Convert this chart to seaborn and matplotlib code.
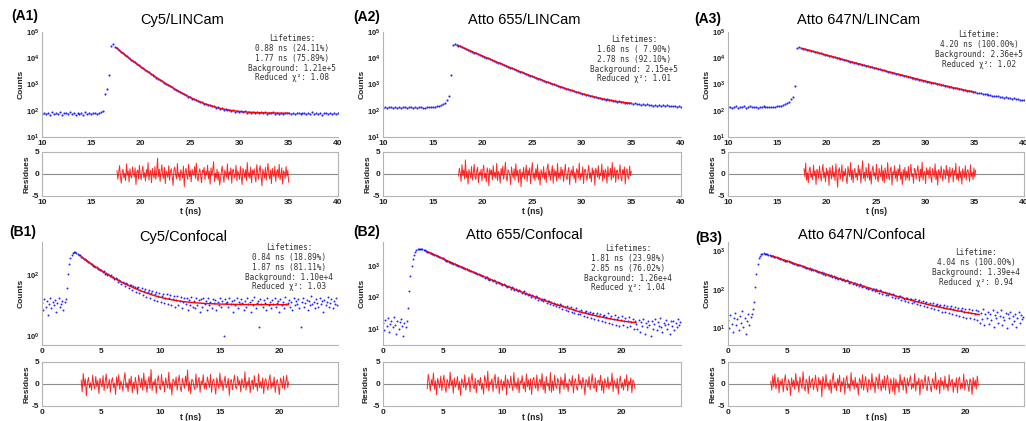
import numpy as np
import pandas as pd
import matplotlib
matplotlib.use("Agg")
import matplotlib.pyplot as plt
import seaborn as sns

# ---------------- time windows (ns) ----------------
A_SPAN = (10.0, 40.0)          # LINCam histogram window
B_SPAN = (0.0, 24.9)           # confocal histogram window
A_FIT_SPAN = (17.5, 35.0)
B1_FIT_SPAN = (3.3, 20.8)
B23_FIT_SPAN = (3.7, 21.2)
A1_RES_SPAN = (17.6, 35.0)
A2_RES_SPAN = (17.6, 35.0)
A3_RES_SPAN = (17.7, 35.1)
B1_RES_SPAN = (3.3, 20.8)
B2_RES_SPAN = (3.7, 21.1)
B3_RES_SPAN = (3.6, 21.1)

# ---------------- photon counts ----------------
a1_counts = [78, 85, 72, 80, 69, 88, 76, 81, 74, 90, 70, 83, 79, 75, 86, 73, 80, 68, 84, 77,
             82, 71, 87, 76, 79, 74, 85, 80, 72, 83, 86, 95,
             420, 700, 2300, 30500, 33800,
             27800, 23900, 20600, 17800, 15460, 13440, 11710, 10230, 8950, 7850,
             6900, 6080, 5360, 4735, 4190, 3710, 3290, 2925, 2600, 2320,
             2064, 1842, 1647, 1473, 1319, 1183, 1061, 954, 859, 774,
             699, 631, 572, 518, 475, 420, 398, 349, 333, 292,
             283, 248, 244, 214, 211, 185, 187, 162, 166, 146,
             149, 131, 136, 119, 126, 110, 117, 103, 111, 98,
             104, 92, 101, 89, 97, 86, 94, 84, 92, 82,
             90, 81, 88, 79, 87, 80, 86, 77, 85, 79,
             86, 76, 84, 78, 85, 75, 83, 79, 84,
             76, 82, 74, 80, 85, 72, 79, 83, 75, 81, 77, 86, 73, 80, 78, 84, 71, 79, 82, 76,
             80, 74, 85, 78, 81]

a2_counts = [132, 140, 128, 137, 145, 126, 138, 131, 142, 129, 136, 144, 127, 133, 139, 130, 141, 125, 136, 143,
             131, 128, 138, 134, 140,
             142, 139, 150, 153, 166, 178, 204, 248, 370, 2400, 32000, 35400,
             32800, 30380, 28130, 26060, 24150, 22380, 20750, 19240, 17840, 16550,
             15360, 14250, 13230, 12280, 11400, 10590, 9840, 9140, 8490, 7900,
             7340, 6825, 6350, 5900, 5490, 5110, 4760, 4430, 4130, 3845,
             3580, 3340, 3110, 2900, 2710, 2530, 2360, 2200, 2060, 1920,
             1800, 1680, 1573, 1472, 1378, 1292, 1211, 1136, 1067, 1001,
             941, 885, 833, 785, 739, 698, 659, 622, 595, 550,
             534, 496, 482, 447, 437, 405, 397, 368, 364, 337,
             334, 309, 310, 285, 288, 265, 269, 247, 251, 232,
             237, 219, 226, 208, 215, 198, 205, 189, 197, 182,
             190, 176, 184, 170, 179, 165, 174, 162, 170, 158,
             167, 155, 164, 152, 161, 150, 159, 148, 157, 146,
             155, 145, 153, 144]

a3_counts = [138, 145, 132, 141, 150, 129, 143, 136, 147, 131, 140, 148, 133, 137, 144, 128, 142, 135, 146, 139,
             133, 141, 137, 145, 140,
             146, 150, 157, 165, 178, 195, 225, 270, 340, 900, 24000, 25800,
             24350, 23230, 22150, 21130, 20160, 19230, 18340, 17490, 16690, 15920,
             15180, 14480, 13820, 13180, 12580, 12000, 11450, 10920, 10420, 9940,
             9490, 9050, 8640, 8240, 7870, 7510, 7165, 6840, 6527, 6230,
             5947, 5678, 5420, 5175, 4941, 4718, 4506, 4303, 4110, 3925,
             3750, 3582, 3422, 3270, 3125, 2986, 2854, 2728, 2608, 2493,
             2384, 2280, 2181, 2086, 1996, 1910, 1828, 1750, 1675, 1604,
             1536, 1471, 1410, 1351, 1295, 1241, 1190, 1142, 1095, 1051,
             1009, 969, 931, 894, 859, 826, 795, 764, 736, 708,
             682, 657, 633, 611, 589, 568, 549, 530, 512, 495,
             485, 457, 454, 428, 427, 401, 403, 377, 380, 355,
             359, 336, 340, 318, 323, 301, 307, 288, 293, 274,
             280, 262, 268, 251]

b1_counts = [12, 7, 16, 9, 14, 5, 11, 18, 8, 13, 10, 15, 6, 12, 17, 9, 11, 14, 7, 13,
             16, 38, 110, 230, 350, 440, 505, 545, 560,
             521, 502, 450, 436, 390, 379, 340, 332, 297, 291,
             261, 256, 229, 226, 202, 201, 179, 180, 158, 160,
             140, 144, 125, 130, 111, 117, 98, 106, 89, 96,
             83,
             84, 71, 78, 74, 60, 69, 63, 51, 60, 56,
             44, 53, 49, 38, 47, 45, 33, 42, 40, 28,
             37, 41, 25, 33, 36, 22, 30, 34, 19, 27,
             31, 17, 25, 29, 15, 23, 27, 14, 21, 26,
             13, 20, 24, 12, 18, 23, 11, 17, 22, 10,
             16, 21, 9, 15, 20, 10, 14, 19, 8, 13,
             18,
             11, 18, 7, 15, 10, 19, 9, 14,
             8, 17, 10, 15, 6, 16, 9, 18, 11, 14,
             7, 17, 10, 13, 8, 16, 12, 15, 7, 13,
             10, 18, 9, 14, 1, 16, 12, 13, 9, 17,
             11, 14, 6, 15, 10, 18, 8, 13, 11, 16,
             12, 7, 14, 9, 17, 11, 13, 6, 15, 10,
             19, 8, 12, 14, 2, 16, 11, 9, 15, 12,
             7, 17, 10, 13, 8, 15, 11, 18, 9, 12,
             14, 6, 16, 10, 13, 8, 19, 11, 12, 15,
             9, 13, 7, 17, 10, 14, 11, 16, 8, 2,
             13, 18, 9, 12, 15, 7, 14, 10, 20, 11,
             13, 8, 16, 12, 9, 17, 11, 14, 6, 15,
             10, 13, 19, 9, 12, 16, 8, 14, 11, 17,
             10]

b2_counts = [15, 9, 19, 12, 22, 8, 14, 17, 11, 24, 13, 7, 18, 10, 16, 21, 12, 6, 15, 11,
             18, 45, 160, 480, 1000, 1650, 2300, 2850, 3250, 3450, 3530, 3560, 3540,
             3490, 3400, 3205, 3130, 2950, 2880, 2715, 2660, 2500, 2450,
             2300, 2260, 2120, 2090, 1955, 1930, 1800, 1780, 1665, 1645,
             1530, 1520, 1415, 1405, 1305, 1300, 1205, 1205, 1115, 1115,
             1030, 1035, 950, 960, 880, 890, 810, 825, 750, 768,
             693, 712, 640, 662, 593, 615, 549, 572, 508, 532,
             480, 489, 431, 447, 437, 396, 372, 399, 370, 338,
             352, 341, 298, 309, 281, 301, 266, 249, 262, 259,
             227, 216, 233, 210, 187, 211, 195, 172, 190, 168,
             158, 176, 161, 138, 149, 157, 128, 136, 119, 134,
             124, 103, 117, 111, 94, 108, 104, 86, 97, 83,
             92, 76, 88, 81, 68, 79, 75, 61, 72, 58,
             69, 64, 52, 63, 49, 60, 56, 44, 55, 51,
             41, 53, 38, 47, 50, 35, 43, 33, 41, 45,
             30, 38, 29, 40, 35, 26, 34, 38, 24, 31,
             35, 22, 29, 33, 21, 27, 32, 19, 26, 30,
             17, 25, 28, 16, 24, 31, 15, 22, 26, 14,
             21, 27, 13, 20, 24, 12, 19, 25, 13, 18,
             22, 11, 17, 23, 12, 16, 21, 10, 18, 14,
             10, 19, 8, 16, 12, 21, 7, 15, 11, 18, 13, 6, 17, 10, 14, 20, 9, 16, 12, 22,
             11, 8, 15, 13, 19, 10, 14, 7, 17, 12, 18, 9, 15, 11, 20, 13, 16]

b3_counts = [16, 10, 22, 13, 8, 19, 25, 12, 17, 9, 21, 14, 28, 11, 18, 7, 15, 23, 12, 20,
             24, 32, 48, 120, 260, 450, 640, 760, 825, 850, 858,
             855, 848, 830, 795, 790, 757, 752, 721, 716, 686,
             683, 653, 650, 622, 620, 592, 591, 564, 563, 537,
             537, 511, 513, 486, 489, 463, 467, 441, 445, 420,
             425, 400, 405, 380, 387, 362, 369, 345, 352, 328,
             337, 312, 321, 297, 307, 283, 293, 270, 280, 257,
             268, 245, 256, 233, 245, 222, 233, 211, 224,
             204, 211, 198, 189, 199, 190, 175, 185, 178, 163,
             172, 168, 151, 159, 161, 141, 150, 147, 131, 142,
             127, 136, 131, 117, 125, 124, 109, 120, 106, 113,
             110, 97, 106, 103, 90, 101, 92, 84, 95, 91,
             79, 87, 89, 74, 82, 71, 80, 78, 66, 75,
             73, 62, 70, 59, 68, 69, 55, 64, 57, 51,
             62, 60, 48, 58, 56, 45, 54, 47, 56, 42,
             50, 53, 39, 47, 51, 37, 45, 48, 35, 43,
             46, 33, 41, 44, 31, 40, 42, 29, 38, 41,
             27, 36, 40, 26, 34, 38, 25, 33, 37, 24,
             31, 35, 22, 30, 34, 21, 29, 33, 20, 27,
             32, 19, 26, 31, 18, 25, 30, 17, 24, 29,
             16,
             28, 14, 25, 17, 31, 12, 23, 19, 27, 13, 24, 16, 29, 11, 22, 18, 26, 14, 21, 30,
             12, 20, 16, 25, 10, 23, 18, 27, 13, 21, 15, 24, 11, 19, 26, 14, 22, 17, 20]

# ---------------- fitted decay curves ----------------
a1_fit = [25780, 17830, 12540, 8950, 6475, 4735, 3495, 2600, 1950, 1473, 1120, 859, 665, 518,
          406, 326, 265, 220, 185, 160, 140, 125, 114, 106, 99, 94.5, 91, 88, 86, 84.6,
          83.5, 82.6, 82, 81.5, 81, 81]
a2_fit = [31570, 26063, 21550, 17842, 14790, 12279, 10205, 8494, 7075, 5904, 4930, 4127, 3455,
          2903, 2440, 2057, 1738, 1472, 1250, 1067, 913, 785, 678, 589, 515, 453, 401, 358,
          321, 291, 266, 245, 228, 214, 201, 191]
a3_fit = [23784, 21130, 18774, 16684, 14827, 13179, 11718, 10418, 9266, 8241, 7334, 6525, 5810,
          5173, 4609, 4107, 3663, 3268, 2917, 2607, 2332, 2085, 1869, 1674, 1502, 1351, 1216,
          1094, 987, 894, 811, 735, 668, 610, 558, 512]
b1_fit = [398, 285, 208, 155, 117, 90, 70, 55.5, 44.6, 36.4, 30.2, 25.5, 21.9, 19.2, 17.1, 15.6,
          14.4, 13.5, 12.8, 12.25, 11.85, 11.5, 11.3, 11.1, 10.96, 10.85, 10.77, 10.7, 10.66,
          10.62, 10.6, 10.58, 10.56, 10.55, 10.54, 10.53]
b2_fit = [2973, 2424, 1980, 1621, 1330, 1094, 901, 744, 616, 510, 424, 353, 294, 246, 206, 173,
          146, 123, 105, 89, 76, 65, 56, 49, 43, 37, 33, 29.4, 26.5, 24, 21.8, 20.1, 18.6,
          17.3, 16.3, 15.5]
b3_fit = [746, 660, 585, 518, 459, 408, 362, 321, 285, 253, 225, 201, 179, 160, 143, 127, 114,
          102, 92, 83, 75, 67.5, 61, 55.5, 50.6, 46, 42.3, 38.9, 35.9, 33.2, 30.9, 28.8, 27,
          25.3, 23.9, 22.6]

# ---------------- weighted residuals ----------------
a1_res = [0.8, -1.2, 0.3, 1.9, -0.6, -2.1, 0.4, 1.1, -0.9, 0.2, -1.5, 2.3, -0.3, 0.7, -1.8, 1.2,
          -0.4, -0.9, 1.6, 0.1, -0.7, 1.4, -2.4, 0.5, 0.9, -1.1, 2.0, -0.2, -1.3, 0.6, 1.8, -0.8,
          0.3, -1.6, 1.0, -0.5, 2.6, -1.4, 0.2, 0.8, -2.0, 1.3, -0.1, -0.9, 1.7, -1.2, 0.4, 3.6,
          -0.6, 1.1, -1.7, 0.5, 2.1, -0.3, -1.0, 1.5, -2.2, 0.7, 0.0, -0.8, 1.9, -1.4, 0.6, 1.2,
          -0.5, -2.6, 0.9, 1.6, -0.2, -1.1, 2.4, -0.7, 0.3, -1.5, 1.0, 0.2, -0.9, 1.8, -2.9, 0.5,
          1.3, -0.4, -1.2, 2.2, -0.6, 0.8, -1.8, 1.1, 0.1, -0.3, 1.7, -1.0, 2.5, -0.8, -1.6, 0.4,
          1.2, -0.5, -2.0, 0.9, 0.3, 1.5, -1.3, 0.6, -0.2, 2.0, -1.1, 0.7, -2.3, 1.4, -0.4, 0.9,
          2.8, -1.7, 0.2, -0.9, 1.1, -1.4, 0.5, -2.5,
          -1.1, 0.6, 1.8, -0.4, -1.9, 0.9, 0.2, -0.7, 2.3, -1.3, 0.5, -0.2, 1.4, -2.1, 0.8, 1.1,
          -0.9, -0.3, 2.0, -1.6, 0.7, 0.1, -1.2, 1.7, -0.5, -2.4, 1.3, 0.4, -0.8, 1.0, -1.5, 2.6,
          -0.6, 0.3, -1.0, 1.6, -2.0, 0.9, -0.1, 1.2, -0.7, -1.8, 2.1, 0.5, -1.2, 0.8, 1.9, -0.4,
          -2.7, 1.1, 0.2, -0.9, 1.5, -1.4, 0.6, 2.4, -0.3, -1.1, 0.9, -2.2, 1.3, 0.0, -0.6, 1.8,
          -1.7, 0.4, 1.0, -0.8, 2.2, -1.3, -0.2, 1.4, -2.3, 0.7, 0.3, -1.0, 1.7, -0.5, 0.8, -1.9]
a2_res = [-0.5, 1.3, 0.2, -1.7, 2.1, -0.4, 0.9, -1.1, 3.2, -0.8, 0.6, -2.3, 1.0, 0.3, -0.9, 1.7,
          -1.4, 0.1, 2.2, -0.6, -1.2, 0.8, 1.5, -2.0, 0.4, -0.3, 1.1, -1.6, 0.7, 2.0, -0.9, 0.2,
          -1.8, 1.4, 0.5, -2.7, 1.2, -0.1, 0.9, -1.3, 1.9, -0.7, 0.4, -1.0, 2.4, -1.5, 0.6, 0.0,
          -2.1, 1.3, -0.4, 1.8, -1.2, 0.3, 2.7, -0.8, -1.6, 1.0, 0.5, -0.2, -2.4, 1.6, 0.1, -0.9,
          1.2, -1.4, 2.3, -0.5, 0.8, -1.9, 0.7, 1.1, -2.9, 0.4, -0.6, 1.5, -1.1, 0.2, 2.0, -1.7,
          0.9, -0.3, 1.4, -2.2, 0.6, 2.6, -1.0, 0.3, -1.5, 1.2, -0.7, 2.1, -1.3, 0.5, -2.5, 1.0,
          0.2, -0.8, 1.7, -1.2, 0.4, -1.9, 1.3, 2.3, -0.6, 0.8, -1.4, 0.1, 1.9, -2.1, 1.1, -0.5,
          0.7, -1.6, 2.4, -0.9, 0.3, -1.2, 1.6, -0.4,
          1.0, -1.7, 0.3, 2.2, -0.8, -1.3, 0.6, 1.5, -2.4, 0.2, 0.9, -0.5, 1.8, -1.1, 0.4, -2.0,
          1.2, 0.7, -0.9, 2.5, -1.4, 0.1, -0.6, 1.6, -2.2, 0.8, 1.1, -0.3, -1.5, 0.5, 2.0, -1.0,
          0.3, -1.8, 1.4, -0.2, 0.9, -2.6, 1.3, 0.6, -0.7, 1.9, -1.2, 0.2, -0.4, 2.3, -1.6, 0.8,
          -1.0, 1.1, 0.4, -2.1, 1.7, -0.6, 0.0, 1.3, -1.4, 2.6, -0.9, -0.3, 1.5, -1.9, 0.7, 0.9,
          -1.2, 0.2, 2.1, -0.8, -1.6, 1.0, -0.1, 1.6, -2.3, 0.5, 1.2, -0.7, -1.1, 1.8, -0.4, 0.6]
a3_res = [1.2, -0.6, 2.5, -1.4, 0.3, -2.0, 0.9, 1.6, -0.8, 0.1, -1.3, 2.0, -0.4, 0.7, -2.4, 1.1,
          0.5, -1.0, 1.8, -0.2, -1.6, 0.6, 2.2, -0.9, 0.4, -1.8, 1.3, -0.3, 0.8, -2.6, 1.5, 0.2,
          -1.1, 1.9, -0.7, 0.4, -1.5, 2.3, -0.5, -3.0, 0.8, 1.4, -1.2, 0.1, 2.1, -1.7, 0.6, -0.4,
          1.2, -0.9, -2.2, 1.7, 0.3, -0.6, 2.6, -1.3, 0.9, -1.9, 0.5, 1.3, -0.8, 0.2, -1.4, 2.0,
          -0.3, 1.1, -2.1, 0.7, 3.0, -1.0, 0.4, -1.6, 1.5, -0.2, -0.9, 2.4, -1.4, 0.6, -2.3, 1.0,
          1.8, -0.5, 0.3, -1.2, 2.2, -0.7, -1.8, 1.3, 0.1, -0.6, 2.0, -1.5, 0.8, -2.0, 1.4, 0.2,
          -1.1, 2.6, -0.4, -1.3, 0.9, 1.6, -2.5, 0.5, -0.2, 1.9, -1.0, 0.7, -1.7, 1.2, -0.3, 2.1,
          -1.2, 0.4, -2.4, 1.0, -0.6, 1.5, -1.4, 0.6,
          -0.9, 1.7, -1.5, 0.4, 2.2, -0.6, 0.1, -2.1, 1.3, 0.8, -1.2, 0.5, 1.9, -0.3, -1.7, 1.1,
          -0.8, 2.7, -1.4, 0.2, 0.6, -2.2, 1.4, -0.1, 0.9, -1.0, 1.6, -0.5, -1.9, 1.2, 0.3, -0.7,
          2.3, -1.3, 0.7, -2.5, 1.0, 0.4, -0.9, 1.8, -0.2, -1.6, 1.1, 0.5, -1.1, 2.0, -0.4, 0.9,
          -2.0, 1.5, -0.6, 0.2, 1.3, -1.8, 0.8, -0.3, 2.4, -1.2, 0.1, -1.5, 1.7, -0.9, 0.6, -2.3,
          1.2, 0.3, -0.8, 1.9, -1.4, 0.5, 1.0, -0.2, -1.7, 2.1, -0.6, 0.4, -1.3, 1.4, -0.7, 0.9]
b1_res = [0.9, -1.8, 2.4, -0.5, 1.2, -2.7, 0.4, 1.5, -0.9, 0.3, -1.4, 2.0, -0.2, -1.1, 1.7, -0.6,
          0.8, -2.2, 1.3, 0.1, -0.7, 1.9, -1.5, 0.5, 2.3, -1.0, -0.3, 1.1, -1.9, 0.6, 1.4, -0.8,
          0.2, -2.4, 1.6, -0.4, 2.1, -1.2, 0.7, -0.1, -1.6, 1.0, 2.6, -0.9, 0.3, -1.7, 1.2, -0.5,
          1.8, -2.0, 0.4, -1.1, 1.5, -0.2, -2.3, 2.0, 0.6, -0.8, 1.3, -1.4, 2.5, -0.6, 0.9, -1.9,
          0.2, 1.7, -1.0, 3.3, -1.5, 0.5, -0.3, 1.2, -2.1, 0.8, 1.9, -0.7, -1.3, 2.2, -0.4, 0.6,
          -1.8, 1.4, 0.1, -0.9, 2.7, -1.2, 0.3, -2.5, 1.1, 0.7, -0.5, 1.6, -1.4, 0.4, 2.0, -0.8,
          -1.7, 1.3, 0.2, -1.0, 1.8, -0.3, 3.2, -1.6, 0.5, -2.2, 1.0, 0.9, -0.6, -1.3, 2.3, -0.9,
          0.4, 1.5, -1.9, 0.7, -0.2, 2.1, -1.1, 0.3,
          -1.2, 1.6, 0.3, -0.8, 2.2, -1.9, 0.6, 1.1, -0.4, -2.3, 1.4, 0.2, -1.0, 2.5, -0.6, 0.9,
          -1.5, 0.4, 1.8, -0.9, -0.2, 1.3, -2.6, 0.7, 1.0, -1.3, 0.5, 2.0, -0.7, -1.1, 1.7, -0.3,
          0.8, -1.8, 1.2, 0.1, -0.9, 2.8, -1.4, 0.6, -0.5, 1.5, -2.0, 0.3, 0.9, -1.2, 1.9, -0.6,
          0.2, -1.6, 2.3, -0.8, 0.5, -1.0, 1.4, -2.2, 0.7, 1.2, -0.3, -1.4, 0.8, 2.1, -1.1, 0.4,
          -0.7, 1.6, -1.9, 0.2, 1.0, -0.5, -2.4, 1.3, 0.6, -0.9, 1.8, -1.2, 0.3, 2.0, -0.8, 0.5]
b2_res = [-1.1, 2.2, 0.4, -1.6, 1.0, -0.3, 2.5, -1.2, 0.7, -2.4, 1.3, 0.2, -0.9, 1.8, -1.5, 0.5,
          2.0, -0.6, -1.9, 1.1, 0.3, -1.0, 2.7, -0.4, 0.9, -2.1, 1.4, -0.7, 0.1, 1.7, -1.3, 0.6,
          -2.6, 1.2, 0.4, -0.8, 2.1, -1.4, 0.3, -0.2, 1.6, -1.8, 0.8, 2.4, -0.5, -1.1, 1.3, -2.0,
          0.6, 0.9, -0.4, 1.5, -1.2, 0.2, -2.3, 1.9, 0.7, -0.9, 2.9, -1.6, 0.5, -0.1, 1.2, -1.7,
          0.8, 2.2, -1.0, -0.4, 1.6, -2.2, 0.3, 1.0, -1.4, 0.6, -0.6, 2.0, -2.5, 1.1, 0.2, -0.9,
          1.8, -0.3, -1.5, 2.6, -0.8, 0.4, -1.2, 1.4, -2.0, 0.7, 0.1, 1.9, -1.1, 0.5, -1.8, 2.3,
          -0.6, 0.9, -1.3, 1.2, -2.4, 0.8, 1.5, -0.2, -1.0, 2.1, -1.6, 0.4, 1.1, -0.7, 2.4, -1.3,
          0.6, -2.1, 1.7, -0.4, 0.2, -1.5, 2.6, -1.9,
          0.7, -1.5, 2.0, -0.4, -1.0, 1.3, 0.5, -2.2, 1.6, -0.3, 0.9, -1.2, 2.4, -0.8, 0.2, -1.7,
          1.1, 0.6, -0.5, 1.9, -2.0, 0.4, 1.2, -0.9, -1.4, 2.2, -0.2, 0.8, -1.1, 1.5, 0.3, -2.5,
          1.0, 0.6, -0.7, 1.7, -1.3, 0.1, 2.3, -0.6, -1.0, 1.4, -1.8, 0.5, 0.9, -0.3, 2.0, -1.5,
          0.7, -2.1, 1.2, 0.2, -0.8, 1.6, -1.2, 0.4, -0.4, 2.5, -1.7, 0.8, 0.0, -1.0, 1.3, -2.3,
          0.6, 1.8, -0.9, 0.3, -1.4, 1.1, -0.5, 2.1, -1.6, 0.7, -0.2, 1.4, -2.0, 0.9, 0.4, -1.1]
b3_res = [0.6, -1.4, 1.9, -0.7, 2.3, -1.1, 0.2, 1.5, -2.0, 0.8, -0.3, 1.2, -1.8, 0.5, 2.1, -0.9,
          -1.5, 1.0, 0.3, -2.6, 1.4, -0.6, 0.9, -1.2, 2.4, -0.4, 0.7, -1.9, 1.6, 0.1, -1.0, 2.8,
          -0.5, -1.6, 1.1, 0.4, -2.2, 1.8, -0.8, 0.6, 1.3, -1.3, 0.2, 2.0, -0.7, -1.7, 1.5, -0.2,
          0.9, -2.9, 1.7, 0.5, -1.1, 2.2, -0.6, 0.3, -1.4, 1.0, -2.1, 0.8, 2.5, -0.9, 0.4, -1.5,
          1.2, -0.3, 2.0, -1.8, 0.6, -0.5, 1.4, -2.3, 0.7, 1.9, -1.0, 0.1, -1.6, 2.6, -0.4, 0.9,
          -1.2, 1.5, -0.8, 0.3, -2.5, 1.3, 0.6, -1.0, 2.1, -1.4, 0.2, 1.7, -0.6, -1.9, 1.1, 0.5,
          -1.3, 2.4, -0.7, 0.4, -2.0, 1.6, 0.8, -1.1, 2.3, -0.2, -1.6, 1.0, -0.9, 1.8, -1.4, 0.7,
          2.0, -0.5, -2.2, 1.2, 0.3, -1.7, 1.4, -2.4,
          1.1, -0.8, 0.4, -1.9, 2.2, -0.3, 0.9, -1.4, 1.6, 0.2, -2.1, 1.3, -0.5, 0.7, 1.9, -1.2,
          0.1, -0.9, 2.4, -1.6, 0.6, -0.2, 1.4, -2.5, 0.8, 1.0, -1.1, 0.3, 2.0, -0.7, -1.5, 1.7,
          0.5, -0.6, -1.8, 1.2, 0.4, -1.0, 2.6, -1.3, 0.2, 0.9, -2.2, 1.5, -0.4, 0.7, -1.3, 1.8,
          -0.8, 0.1, -1.6, 2.1, -0.5, 0.6, 1.1, -1.9, 0.3, -0.7, 1.4, -2.0, 0.8, 1.6, -1.1, 0.2,
          -0.9, 2.3, -1.4, 0.5, 1.0, -0.3, -1.7, 1.2, 0.4, -2.4, 1.5, -0.6, 0.9, -1.2, 1.8, -0.4]

# ---------------- panel text ----------------
panel_tags = ["(A1)", "(A2)", "(A3)", "(B1)", "(B2)", "(B3)"]
panel_titles = ["Cy5/LINCam", "Atto 655/LINCam", "Atto 647N/LINCam",
                "Cy5/Confocal", "Atto 655/Confocal", "Atto 647N/Confocal"]
fit_reports = [
    "Lifetimes:\n0.88 ns (24.11%)\n1.77 ns (75.89%)\nBackground: 1.21e+5\nReduced \u03c7\u00b2: 1.08",
    "Lifetimes:\n1.68 ns ( 7.90%)\n2.78 ns (92.10%)\nBackground: 2.15e+5\nReduced \u03c7\u00b2: 1.01",
    "Lifetime:\n4.20 ns (100.00%)\nBackground: 2.36e+5\nReduced \u03c7\u00b2: 1.02",
    "Lifetimes:\n0.84 ns (18.89%)\n1.87 ns (81.11%)\nBackground: 1.10e+4\nReduced \u03c7\u00b2: 1.03",
    "Lifetimes:\n1.81 ns (23.98%)\n2.85 ns (76.02%)\nBackground: 1.26e+4\nReduced \u03c7\u00b2: 1.04",
    "Lifetime:\n4.04 ns (100.00%)\nBackground: 1.39e+4\nReduced \u03c7\u00b2: 0.94",
]

# ---------------- style ----------------
sns.set_theme(style="white")
plt.rcParams["font.family"] = ["Liberation Sans", "DejaVu Sans"]
plt.rcParams["mathtext.fontset"] = "custom"
plt.rcParams["mathtext.rm"] = "Liberation Sans"
plt.rcParams["mathtext.bf"] = "Liberation Sans:bold"
plt.rcParams["mathtext.it"] = "Liberation Sans:italic"

W, H = 1026, 421
SPINE = "#b4b4b4"
TICKTXT = "#222222"

fig = plt.figure(figsize=(W / 100, H / 100), dpi=100)


def box(x0, y0, x1, y1):
    return [x0 / W, 1 - y1 / H, (x1 - x0) / W, (y1 - y0) / H]


def fxy(x, y):
    return x / W, 1 - y / H


def style_ticks(ax, ysize):
    ax.tick_params(direction="in", length=2, width=0.6, color="#9a9a9a",
                   labelsize=6, labelcolor=TICKTXT)
    ax.tick_params(axis="x", pad=2)
    ax.tick_params(axis="y", pad=2, labelsize=ysize)
    ax.minorticks_off()


panels = [
    dict(counts=a1_counts, span=A_SPAN, fit=a1_fit, fspan=A_FIT_SPAN, res=a1_res, rspan=A1_RES_SPAN,
         ylim=(10, 1e5), yexp=[1, 2, 3, 4, 5], xt=[10, 15, 20, 25, 30, 35, 40], xlim=(10, 40)),
    dict(counts=a2_counts, span=A_SPAN, fit=a2_fit, fspan=A_FIT_SPAN, res=a2_res, rspan=A2_RES_SPAN,
         ylim=(10, 1e5), yexp=[1, 2, 3, 4, 5], xt=[10, 15, 20, 25, 30, 35, 40], xlim=(10, 40)),
    dict(counts=a3_counts, span=A_SPAN, fit=a3_fit, fspan=A_FIT_SPAN, res=a3_res, rspan=A3_RES_SPAN,
         ylim=(10, 1e5), yexp=[1, 2, 3, 4, 5], xt=[10, 15, 20, 25, 30, 35, 40], xlim=(10, 40)),
    dict(counts=b1_counts, span=B_SPAN, fit=b1_fit, fspan=B1_FIT_SPAN, res=b1_res, rspan=B1_RES_SPAN,
         ylim=(0.5, 1200), yexp=[0, 2], xt=[0, 5, 10, 15, 20], xlim=(0, 24.95)),
    dict(counts=b2_counts, span=B_SPAN, fit=b2_fit, fspan=B23_FIT_SPAN, res=b2_res, rspan=B2_RES_SPAN,
         ylim=(3.0, 6000), yexp=[1, 2, 3], xt=[0, 5, 10, 15, 20], xlim=(0, 24.95)),
    dict(counts=b3_counts, span=B_SPAN, fit=b3_fit, fspan=B23_FIT_SPAN, res=b3_res, rspan=B3_RES_SPAN,
         ylim=(3.7, 1700), yexp=[1, 2, 3], xt=[0, 5, 10, 15, 20], xlim=(0, 24.95)),
]

# layout in pixels
col_left = [42, 383, 728]
col_right = [338, 681, 1024]
row_main = [(32, 137), (242, 345)]
row_res = [(152, 196), (362, 406)]
tag_xy = [(25, 16), (367, 17), (708, 19), (23, 232), (367, 232), (709, 238)]
title_xy = [(182, 20), (524, 20), (859, 20), (183, 237), (524, 235), (862, 235)]
report_xy = [(292, 34), (634, 35), (979, 30), (289, 243), (628, 244), (976, 248)]
counts_x = [21, 362, 707, 21, 362, 707]
res_x = [27, 368, 713, 27, 366, 713]
tlabel_y = [211, 417]

for i, p in enumerate(panels):
    r, c = divmod(i, 3)
    x0, x1 = col_left[c], col_right[c]

    # --- decay histogram with fit ---
    ax = fig.add_axes(box(x0, row_main[r][0], x1, row_main[r][1]))
    ax.set_yscale("log")
    t = np.linspace(p["span"][0], p["span"][1], len(p["counts"]))
    dfd = pd.DataFrame({"t": t, "counts": p["counts"]})
    sns.scatterplot(data=dfd, x="t", y="counts", ax=ax, s=2.4 if r == 0 else 2.0,
                    color="#0000ff", linewidth=0, alpha=0.85, legend=False)
    tf = np.linspace(p["fspan"][0], p["fspan"][1], len(p["fit"]))
    dff = pd.DataFrame({"t": tf, "fit": p["fit"]})
    sns.lineplot(data=dff, x="t", y="fit", ax=ax, color="#ff0000", linewidth=1.0,
                 estimator=None, sort=False)
    ax.set_xlim(*p["xlim"])
    ax.set_ylim(*p["ylim"])
    ax.set_xticks(p["xt"], labels=[str(v) for v in p["xt"]], fontweight="bold")
    ax.set_yticks([10.0 ** e for e in p["yexp"]],
                  labels=[r"$\mathbf{10^{%d}}$" % e for e in p["yexp"]])
    style_ticks(ax, 5.5)
    ax.set_xlabel("")
    ax.set_ylabel("")
    for s in ["top", "right"]:
        ax.spines[s].set_visible(False)
    for s in ["left", "bottom"]:
        ax.spines[s].set_color(SPINE)
        ax.spines[s].set_linewidth(0.8)

    # --- residuals ---
    axr = fig.add_axes(box(x0, row_res[r][0], x1, row_res[r][1]))
    tr = np.linspace(p["rspan"][0], p["rspan"][1], len(p["res"]))
    dfr = pd.DataFrame({"t": tr, "res": p["res"]})
    axr.axhline(0, color="#8c8c8c", linewidth=0.8, zorder=1)
    sns.lineplot(data=dfr, x="t", y="res", ax=axr, color="#ff0000", linewidth=0.7,
                 alpha=0.85, estimator=None, sort=False, zorder=2)
    axr.set_xlim(*p["xlim"])
    axr.set_ylim(-5, 5)
    axr.set_xticks(p["xt"], labels=[str(v) for v in p["xt"]], fontweight="bold")
    axr.set_yticks([-5, 0, 5], labels=["-5", "0", "5"], fontweight="bold")
    style_ticks(axr, 6)
    axr.set_xlabel("")
    axr.set_ylabel("")
    for s in axr.spines.values():
        s.set_color(SPINE)
        s.set_linewidth(0.8)

    # --- labels and text ---
    fig.text(*fxy(*tag_xy[i]), panel_tags[i], ha="center", va="center",
             fontsize=10, fontweight="bold", color="black")
    fig.text(*fxy(*title_xy[i]), panel_titles[i], ha="center", va="center",
             fontsize=10.5, color="black")
    fig.text(*fxy(*report_xy[i]), fit_reports[i], ha="center", va="top",
             multialignment="center", fontsize=5.6, linespacing=1.12,
             family="DejaVu Sans Mono", color="#333333")
    main_mid = (row_main[r][0] + row_main[r][1]) / 2
    res_mid = (row_res[r][0] + row_res[r][1]) / 2
    fig.text(*fxy(counts_x[i], main_mid), "Counts", rotation=90, ha="center", va="center",
             fontsize=6, fontweight="bold", color=TICKTXT)
    fig.text(*fxy(res_x[i], res_mid), "Residues", rotation=90, ha="center", va="center",
             fontsize=6, fontweight="bold", color=TICKTXT)
    fig.text(*fxy((x0 + x1) / 2, tlabel_y[r]), "t (ns)", ha="center", va="center",
             fontsize=6.2, fontweight="bold", color=TICKTXT)

fig.savefig("out.png", dpi=100)
